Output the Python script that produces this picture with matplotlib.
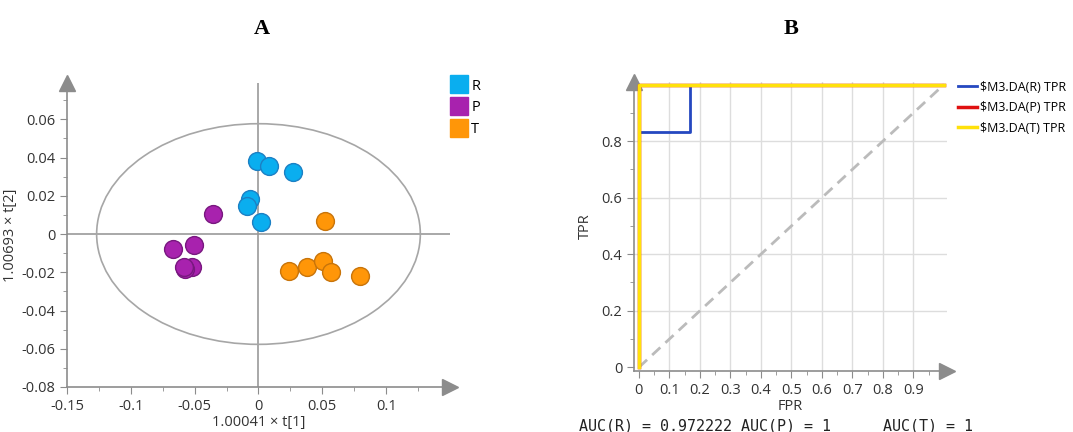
import matplotlib
matplotlib.use("Agg")
import matplotlib.pyplot as plt
from matplotlib.patches import Ellipse
from matplotlib.ticker import MultipleLocator

# ---- panel A: score plot ----
groups = ["R", "P", "T"]
colors = {"R": "#0AAEEF", "P": "#A822AE", "T": "#FF9608"}
edges = {"R": "#1C80C4", "P": "#78187F", "T": "#C8740A"}
t1 = {
    "R": [-0.0008, 0.0083, 0.0271, -0.0066, -0.0089, 0.0023],
    "P": [-0.0355, -0.0668, -0.0504, -0.0520, -0.0577, -0.0585],
    "T": [0.0519, 0.0239, 0.0378, 0.0509, 0.0571, 0.0798],
}
t2 = {
    "R": [0.0381, 0.0358, 0.0326, 0.0185, 0.0147, 0.0061],
    "P": [0.0106, -0.0080, -0.0059, -0.0171, -0.0185, -0.0171],
    "T": [0.0066, -0.0192, -0.0173, -0.0140, -0.0201, -0.0218],
}
ellipse_w, ellipse_h = 0.2535, 0.1154
xticks_a = [-0.15, -0.1, -0.05, 0, 0.05, 0.1]
xlabels_a = ["-0.15", "-0.1", "-0.05", "0", "0.05", "0.1"]
yticks_a = [-0.08, -0.06, -0.04, -0.02, 0, 0.02, 0.04, 0.06]
ylabels_a = ["-0.08", "-0.06", "-0.04", "-0.02", "0", "0.02", "0.04", "0.06"]

# ---- panel B: ROC curves ----
fpr_R = [0, 0, 0.1667, 0.1667, 1]
tpr_R = [0, 0.8333, 0.8333, 1, 1]
fpr_P = [0, 0, 1]
tpr_P = [0, 1, 1]
fpr_T = [0, 0, 1]
tpr_T = [0, 1, 1]
roc_labels = ["$M3.DA(R) TPR", "$M3.DA(P) TPR", "$M3.DA(T) TPR"]
xticks_b = [0, 0.1, 0.2, 0.3, 0.4, 0.5, 0.6, 0.7, 0.8, 0.9]
yticks_b = [0, 0.2, 0.4, 0.6, 0.8]

plt.rcParams["font.family"] = ["Open Sans", "DejaVu Sans"]
GRAY = "#8C8C8C"
TXT = "#333333"

fig = plt.figure(figsize=(10.73, 4.32), dpi=100)

# ---------- A ----------
ax = fig.add_axes([0.0624, 0.1042, 0.357, 0.7037])
ax.set_xlim(-0.15, 0.15)
ax.set_ylim(-0.08, 0.079)
ax.axhline(0, color="#999999", lw=1.2, zorder=1)
ax.axvline(0, color="#999999", lw=1.2, zorder=1)
ax.add_patch(Ellipse((0, 0), ellipse_w, ellipse_h, fill=False, ec="#A6A6A6", lw=1.2, zorder=1))
for g in groups:
    ax.scatter(t1[g], t2[g], s=165, c=colors[g], edgecolors=edges[g], linewidths=1.0, zorder=3, label=g)

for side in ["top", "right"]:
    ax.spines[side].set_visible(False)
for side in ["left", "bottom"]:
    ax.spines[side].set_color(GRAY)
    ax.spines[side].set_linewidth(1.2)
ax.set_xticks(xticks_a)
ax.set_xticklabels(xlabels_a)
ax.set_yticks(yticks_a)
ax.set_yticklabels(ylabels_a)
ax.xaxis.set_minor_locator(MultipleLocator(0.025))
ax.yaxis.set_minor_locator(MultipleLocator(0.01))
ax.tick_params(which="both", colors=GRAY, labelcolor=TXT, labelsize=10.5)
ax.tick_params(which="major", length=5)
ax.tick_params(which="minor", length=3)
ax.plot([0], [1], marker="^", ms=11, color=GRAY, transform=ax.transAxes, clip_on=False)
ax.plot([1], [0], marker=">", ms=11, color=GRAY, transform=ax.transAxes, clip_on=False)
ax.set_xlabel("1.00041 × t[1]", color=TXT, fontsize=10.5, labelpad=1)
ax.set_ylabel("1.00693 × t[2]", color=TXT, fontsize=10.5, labelpad=2)

handles = [plt.Line2D([], [], marker="s", ls="", ms=13, color=colors[g]) for g in groups]
fig.legend(handles, groups, loc="upper left", bbox_to_anchor=(0.414, 0.835), frameon=False,
           fontsize=10.5, handlelength=1.0, handletextpad=0.35, labelspacing=0.45, borderpad=0)

fig.text(0.244, 0.933, "A", ha="center", va="center", fontsize=16, fontweight="bold",
         family="Liberation Serif")
fig.text(0.737, 0.933, "B", ha="center", va="center", fontsize=16, fontweight="bold",
         family="Liberation Serif")

# ---------- B ----------
bx = fig.add_axes([0.5909, 0.1419, 0.2917, 0.669])
bx.set_xlim(-0.016, 1.01)
bx.set_ylim(-0.012, 1.01)
for x in xticks_b[1:]:
    bx.axvline(x, color="#DDDDDD", lw=1.0, zorder=0)
for y in yticks_b[1:]:
    bx.axhline(y, color="#DDDDDD", lw=1.0, zorder=0)
bx.plot([0, 1], [0, 1], ls=(0, (4, 2.5)), color="#BBBBBB", lw=2, zorder=1)
bx.plot(fpr_R, tpr_R, color="#2548C0", lw=2, zorder=3, label=roc_labels[0])
bx.plot(fpr_P, tpr_P, color="#E01010", lw=2.5, zorder=3, label=roc_labels[1])
bx.plot(fpr_T, tpr_T, color="#FFE10A", lw=2.5, zorder=4, label=roc_labels[2])

for side in ["top", "right"]:
    bx.spines[side].set_visible(False)
for side in ["left", "bottom"]:
    bx.spines[side].set_color(GRAY)
    bx.spines[side].set_linewidth(1.2)
bx.set_xticks(xticks_b)
bx.set_xticklabels([f"{v:g}" for v in xticks_b])
bx.set_yticks(yticks_b)
bx.set_yticklabels([f"{v:g}" for v in yticks_b])
bx.xaxis.set_minor_locator(MultipleLocator(0.05))
bx.yaxis.set_minor_locator(MultipleLocator(0.1))
bx.tick_params(which="both", colors=GRAY, labelcolor=TXT, labelsize=10.5)
bx.tick_params(which="major", length=5)
bx.tick_params(which="minor", length=3)
bx.plot([0], [1], marker="^", ms=11, color=GRAY, transform=bx.transAxes, clip_on=False)
bx.plot([1], [0], marker=">", ms=11, color=GRAY, transform=bx.transAxes, clip_on=False)
bx.set_xlabel("FPR", color=TXT, fontsize=10.5, labelpad=1)
bx.set_ylabel("TPR", color=TXT, fontsize=10.5, labelpad=6)

bx.legend(loc="upper left", bbox_to_anchor=(1.015, 1.025), frameon=False, fontsize=9,
          handlelength=1.5, handletextpad=0.25, labelspacing=0.6, borderpad=0)

fig.text(0.540, 0.004, "AUC(R) = 0.972222 AUC(P) = 1", family="DejaVu Sans Mono",
         fontsize=10.8, color="#222222")
fig.text(0.823, 0.004, "AUC(T) = 1", family="DejaVu Sans Mono", fontsize=10.8, color="#222222")

fig.savefig("out.png", dpi=100)
